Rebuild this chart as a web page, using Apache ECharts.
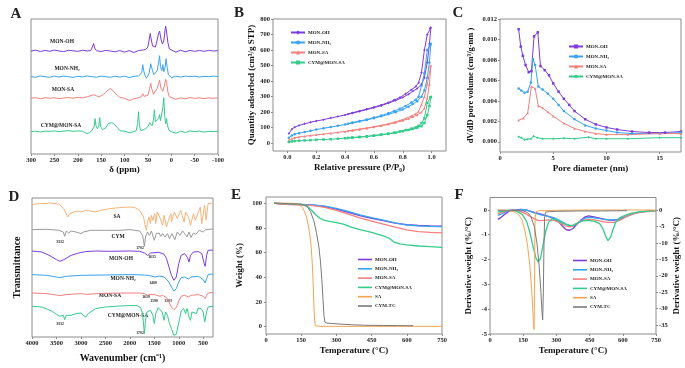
<!DOCTYPE html>
<html>
<head>
<meta charset="utf-8">
<script src="https://cdn.jsdelivr.net/npm/echarts@6.0.0/dist/echarts.min.js"></script>
<style>
html, body { margin: 0; padding: 0; background: #fff; }
#chart { width: 685px; height: 368px; }
</style>
</head>
<body>
<div id="chart"></div>
<script>
// ---- A: 13C NMR, [ppm, height above own baseline] ----
const nmrOH = [[300,0],[290,0.8],[280,-0.5],[270,0.6],[260,-0.3],[250,0.9],[240,0],[230,-0.6],[220,0.7],[210,0.2],[200,-0.4],[190,0.8],[180,0],[172,0.5],[168,2],[166,7.5],[164,3],[160,0.3],[150,-0.5],[140,0.6],[130,0],[120,-0.8],[110,0.5],[100,-1.2],[90,0.4],[80,-1.5],[70,0.5],[60,1],[55,1.5],[50,4],[47,12],[45,17.5],[43,12],[40,5],[37,3],[34,4],[31,9],[28,16],[25,20],[22,12],[19,7],[16,10],[14,18],[12,25],[10,19],[7,8],[4,2],[0,0.5],[-10,-1.2],[-20,0.8],[-30,-0.8],[-40,0.6],[-50,-0.4],[-60,0.5],[-70,-0.3],[-80,0.6],[-90,0],[-100,0.3]];
const nmrNH2 = [[300,0],[290,-0.5],[280,0.7],[270,0],[260,-0.6],[250,0.5],[240,-0.3],[230,0.6],[220,0],[210,-0.7],[200,0.4],[190,-0.2],[180,0.8],[170,0],[160,-0.5],[150,0.6],[140,0],[130,-0.6],[120,0.5],[110,-0.4],[100,0.6],[90,-0.8],[80,0.3],[70,0.8],[66,1.5],[63,4],[61,12],[59,6],[56,1],[53,-1.5],[50,1],[47,4],[44,13],[42,14],[40,6],[37,2],[34,3],[30,6],[27,14],[25,21],[23,10],[20,6],[18,12],[16,5],[13,10],[11,18],[9,10],[6,2],[3,0],[0,-1],[-10,0.5],[-20,-0.4],[-30,0.6],[-40,0],[-50,0.5],[-60,-0.4],[-70,0.4],[-80,0],[-90,0.6],[-100,0.2]];
const nmrSA = [[300,0],[290,0.6],[280,-0.4],[270,0.5],[260,0],[250,0.7],[240,-0.5],[230,0.3],[220,0.8],[210,0],[200,1],[190,0.4],[180,1.5],[170,3],[165,3.5],[160,2.5],[155,1.5],[150,2.5],[145,4],[140,6],[135,8.5],[130,9.5],[125,8],[120,5],[115,3],[110,1],[100,0],[90,-2],[85,-1.5],[80,-0.5],[70,0.5],[64,1.5],[61,4.5],[58,2],[54,0.5],[50,3],[46,10],[44,15],[42,10],[38,4],[34,5],[30,10],[27,15],[25,18],[22,10],[18,7],[15,12],[12,19],[10,16],[7,6],[4,1.5],[0,0],[-10,-1],[-20,0.5],[-30,-0.5],[-40,0.7],[-50,0],[-60,0.5],[-70,-0.3],[-80,0.4],[-90,0],[-100,0.4]];
const nmrCYM = [[300,0],[290,0.6],[280,-0.3],[270,0.5],[260,0.3],[250,0.8],[240,0],[230,0.6],[220,1],[210,0.4],[200,0.8],[190,0.5],[180,-2],[175,-1],[170,1],[165,5],[163,13],[161,6],[158,3],[155,6],[153,14],[151,5],[147,2],[143,0.5],[140,4],[135,8],[131,7],[127,9],[124,11],[121,7],[118,7],[115,4],[110,1],[100,0.5],[90,-1],[80,0],[75,1],[72,8],[70,20],[68,6],[65,1],[60,2],[55,3],[50,5],[46,9],[44,11],[41,6],[38,12],[36,22],[34,10],[30,8],[27,13],[25,17],[23,11],[20,10],[18,24],[16,34],[14,16],[12,8],[10,13],[8,6],[5,1.5],[0,0],[-10,-1.5],[-20,0.5],[-30,-0.8],[-40,0.8],[-50,0],[-60,0.6],[-70,-0.4],[-80,0.3],[-90,0.2],[-100,0.5]];
const nmrBase = [103, 77.3, 55.7, 22.3];

// ---- B: N2 isotherms, [P/P0, cm3/g] adsorption then desorption ----
const isoOH = [[0.01,62],[0.03,90],[0.05,103],[0.08,115],[0.12,125],[0.16,135],[0.2,143],[0.25,152],[0.3,162],[0.35,172],[0.4,182],[0.45,193],[0.5,205],[0.55,217],[0.6,229],[0.65,242],[0.7,258],[0.75,275],[0.8,295],[0.84,315],[0.87,335],[0.9,352],[0.93,380],[0.95,420],[0.97,520],[0.985,640],[0.995,745],[0.99,740],[0.97,700],[0.95,600],[0.93,455],[0.91,390],[0.89,365],[0.86,345],[0.82,318],[0.78,295],[0.74,278],[0.7,262],[0.65,246],[0.6,232],[0.55,220],[0.5,208],[0.45,196],[0.42,188]];
const isoNH2 = [[0.01,35],[0.03,50],[0.05,58],[0.08,65],[0.12,72],[0.16,80],[0.2,88],[0.25,96],[0.3,104],[0.35,112],[0.4,121],[0.45,130],[0.5,140],[0.55,150],[0.6,161],[0.65,173],[0.7,186],[0.75,200],[0.8,217],[0.84,235],[0.87,252],[0.9,270],[0.93,300],[0.95,340],[0.97,420],[0.985,520],[0.995,640],[0.99,630],[0.97,600],[0.95,450],[0.93,370],[0.91,300],[0.89,280],[0.86,262],[0.82,240],[0.78,222],[0.74,207],[0.7,193],[0.65,178],[0.6,165],[0.55,153],[0.5,143],[0.45,133],[0.42,126]];
const isoSA = [[0.01,20],[0.03,30],[0.05,35],[0.08,40],[0.12,45],[0.16,50],[0.2,54],[0.25,59],[0.3,64],[0.35,70],[0.4,76],[0.45,82],[0.5,89],[0.55,96],[0.6,104],[0.65,112],[0.7,122],[0.75,133],[0.8,146],[0.84,158],[0.87,170],[0.9,182],[0.93,200],[0.95,225],[0.97,290],[0.985,380],[0.995,500],[0.99,490],[0.97,380],[0.95,300],[0.93,250],[0.91,205],[0.89,190],[0.86,175],[0.82,160],[0.78,146],[0.74,135],[0.7,125],[0.65,115],[0.6,106],[0.55,98],[0.5,91],[0.45,84],[0.42,79]];
const isoCYM = [[0.01,8],[0.03,12],[0.05,14],[0.08,16],[0.12,18],[0.16,20],[0.2,22],[0.25,24],[0.3,26],[0.35,29],[0.4,32],[0.45,35],[0.5,39],[0.55,43],[0.6,48],[0.65,54],[0.7,60],[0.75,68],[0.8,77],[0.84,85],[0.87,92],[0.9,100],[0.93,110],[0.95,130],[0.97,180],[0.985,240],[0.995,298],[0.99,295],[0.97,260],[0.95,160],[0.93,130],[0.91,112],[0.89,102],[0.86,94],[0.82,85],[0.78,76],[0.74,68],[0.7,62],[0.65,56],[0.6,50],[0.55,45],[0.5,41],[0.45,37],[0.42,34]];

// ---- C: pore size distribution, [nm, cm3/g.nm] ----
const psdOH = [[1.75,0.011],[1.95,0.0093],[2.15,0.0084],[2.4,0.0075],[2.7,0.0068],[2.95,0.0069],[3.2,0.0103],[3.55,0.0107],[3.8,0.0074],[4.2,0.007],[4.6,0.0065],[5,0.0057],[5.5,0.0049],[6,0.0042],[6.5,0.0036],[7,0.003],[8,0.0022],[9,0.0017],[10,0.0014],[11,0.0012],[12.4,0.001],[14,0.0009],[15.5,0.0009],[17,0.001]];
const psdNH2 = [[1.75,0.0052],[2,0.005],[2.3,0.0048],[2.6,0.0049],[2.9,0.0058],[3.1,0.0081],[3.3,0.0075],[3.6,0.0054],[4,0.0051],[4.5,0.0047],[5,0.0042],[5.5,0.0036],[6,0.003],[7,0.0022],[8,0.0016],[9,0.0013],[10,0.0011],[11,0.0009],[12.4,0.0008],[15,0.0008],[17,0.0009]];
const psdSA = [[1.75,0.0021],[2.2,0.0023],[2.6,0.0028],[2.95,0.0054],[3.3,0.0052],[3.6,0.0035],[4,0.0033],[4.5,0.0029],[5,0.0025],[6,0.0018],[7,0.0013],[8,0.001],[9,0.0008],[10,0.0007],[12,0.0007],[15,0.0008],[17,0.0008]];
const psdCYM = [[1.75,0.0005],[2,0.0004],[2.3,0.0002],[2.6,0.00025],[2.9,0.0003],[3.15,0.00055],[3.5,0.0004],[4,0.0003],[5,0.0003],[6,0.00035],[7,0.0003],[8.3,0.00045],[9,0.0003],[10,0.0003],[12,0.0003],[15,0.0004],[17,0.0004]];

// ---- D: FTIR, [cm-1, transmittance (offset units)] ----
const irSA = [[4000,132.7],[3800,133.4],[3600,134],[3450,132.7],[3350,128.4],[3270,120],[3230,123.4],[3150,125],[3050,126],[3000,125],[2900,126.7],[2800,126],[2700,125],[2600,126.7],[2400,128.4],[2200,129.4],[2000,130],[1900,129.4],[1800,126.7],[1720,120],[1680,110],[1660,106.7],[1640,115],[1610,120],[1580,113.4],[1560,121.7],[1530,116.7],[1490,123.4],[1470,113.4],[1440,125],[1390,120],[1330,111.7],[1300,121.7],[1250,110],[1210,116.7],[1160,123.4],[1150,115],[1090,125],[1030,118.4],[960,126.7],[890,115],[860,125],[800,120],[760,111.7],[700,123.4],[660,116.7],[560,130],[530,113.4],[470,131.7],[440,116.7],[400,133.4],[300,134]];
const irCYM = [[4000,107.4],[3700,107.7],[3450,106.7],[3360,105],[3332,100.7],[3300,106],[3250,104],[3200,106],[3100,105],[3000,103.4],[2950,105],[2800,106.7],[2500,106.7],[2200,106.7],[2000,107.4],[1800,106],[1740,101.7],[1702,90.7],[1680,100],[1640,105],[1600,101.7],[1560,106],[1500,96.7],[1460,103.4],[1400,104],[1370,100.7],[1330,103.4],[1280,100],[1230,103.4],[1190,98.4],[1140,103.4],[1080,97.4],[1030,105],[980,101.7],[920,106],[880,103.4],[830,100],[790,105],[750,99.4],[700,104],[650,102.7],[580,106.7],[500,105],[450,107.4],[300,108]];
const irOH = [[4000,86],[3800,85],[3650,81.7],[3500,77.4],[3430,75.7],[3350,77.4],[3200,81.7],[3050,84],[2900,85.4],[2700,86],[2400,85.7],[2000,86],[1800,85.7],[1700,84],[1635,81.4],[1580,84],[1400,84.7],[1300,82.7],[1250,78.4],[1200,70],[1150,61.7],[1100,56.7],[1080,55],[1050,60],[1000,73.4],[950,81.7],[880,83.4],[820,79.4],[790,75],[760,81.7],[700,85],[600,85.4],[530,83.4],[480,73.4],[460,70.7],[430,81.7],[400,86.7],[300,87]];
const irNH2 = [[4000,62.4],[3700,61.7],[3500,60],[3430,59.4],[3300,60.7],[3000,61.7],[2500,62],[2000,62.4],[1700,62],[1600,61.4],[1480,60],[1400,61],[1300,60],[1200,55],[1150,50],[1100,46],[1080,45],[1050,48.4],[1000,55],[950,59.4],[880,60],[800,58],[750,60],[600,60.7],[500,57.4],[460,54],[430,58.4],[400,62.4],[300,63]];
const irMSA = [[4000,44],[3700,43.4],[3500,42],[3430,41.4],[3300,42.4],[3000,43.4],[2900,42.7],[2500,43.7],[2000,44],[1800,44],[1700,43.4],[1639,41.7],[1590,42.4],[1500,42.4],[1450,41.7],[1383,40.7],[1330,41.7],[1250,39.4],[1200,35],[1150,30],[1100,27.4],[1080,26.7],[1050,29.4],[1000,36],[950,40.7],[880,41.7],[800,40],[750,41.7],[600,42.4],[500,40.7],[460,38.4],[430,41.7],[400,44],[300,44.5]];
const irCYMSA = [[4000,30.7],[3800,30],[3600,26],[3500,22.7],[3430,20.7],[3360,21.7],[3332,17.4],[3300,21.7],[3200,21.7],[3100,23.4],[3000,24],[2950,21.7],[2900,20],[2850,23.4],[2700,28.4],[2500,30],[2200,31],[2000,31.4],[1850,31.4],[1780,29.4],[1740,23.4],[1702,3.4],[1680,16.7],[1650,25],[1620,23.4],[1580,26.7],[1530,21.7],[1500,13.4],[1470,23.4],[1420,29.4],[1380,28.4],[1340,25],[1300,16.7],[1270,25],[1230,21.7],[1190,13.4],[1150,8.4],[1100,1.7],[1080,0],[1050,2.7],[1020,10],[980,18.4],[950,26],[900,28.4],[860,23.4],[830,28.4],[790,20],[760,16.7],[730,25],[690,26],[640,23.4],[600,29],[540,28.4],[500,25],[470,15],[450,13.4],[430,25],[400,30],[300,31]];

// ---- E: TGA, [degC, weight %] ----
const tgaOH = [[35,100],[60,99.4],[100,99],[150,98.8],[200,98.4],[250,97.3],[300,95.2],[350,92.6],[400,90],[450,87.6],[500,85.8],[550,83.8],[600,82.6],[650,81.9],[700,81.6],[750,81.4]];
const tgaNH2 = [[35,100],[60,99.5],[100,99.2],[150,99],[200,98.6],[250,97.6],[300,95.8],[350,93.3],[400,90.6],[450,88.2],[500,86.3],[550,84],[600,82.3],[650,81.6],[700,81.2],[750,81]];
const tgaSA = [[35,100],[60,99.3],[100,98.9],[150,98.6],[200,98],[250,96.6],[300,94.2],[350,91.2],[400,88],[450,85.4],[500,83.1],[550,80.6],[600,78.4],[650,77],[700,76.3],[750,75.9]];
const tgaCYM = [[35,100],[80,99.7],[120,99.5],[150,99],[170,98],[185,96],[200,93],[215,90],[230,87.8],[250,86],[275,85],[300,84.3],[330,83],[360,80.8],[400,78.5],[450,76.4],[500,73.6],[525,71.5],[545,68.5],[570,67],[600,66.2],[650,65.3],[700,64.8],[750,64.2]];
const tgaSalA = [[35,100],[80,100],[120,99.8],[140,98.8],[155,96.5],[165,93],[175,87],[185,77],[192,66],[197,52],[201,35],[204,18],[207,5],[210,0.6],[230,0.2],[400,0.2],[600,0.2],[750,0.2]];
const tgaTC = [[35,100],[100,99.6],[150,99.2],[175,97.5],[190,93],[205,85],[215,76],[225,65],[232,53],[238,38],[243,22],[247,9],[251,3.5],[260,2.9],[280,2.5],[320,2],[370,1.4],[420,1.1],[500,0.9],[560,0.8],[627,0.7]];

// ---- F: DTG, [degC, %/degC]; SA and CYM-TC on the right axis ----
const dtgOH = [[35,-0.38],[50,-0.3],[70,-0.15],[90,-0.03],[110,0],[140,0.02],[160,0],[180,-0.05],[200,-0.1],[230,-0.17],[260,-0.25],[290,-0.35],[310,-0.48],[330,-0.68],[345,-0.8],[360,-0.82],[375,-0.75],[390,-0.6],[410,-0.42],[430,-0.28],[445,-0.24],[470,-0.28],[500,-0.34],[530,-0.4],[555,-0.42],[580,-0.38],[610,-0.28],[640,-0.18],[670,-0.1],[700,-0.06],[730,-0.04],[750,-0.03]];
const dtgNH2 = [[35,-0.22],[55,-0.15],[75,-0.06],[95,-0.01],[120,0],[150,0.01],[170,-0.02],[200,-0.12],[230,-0.2],[260,-0.25],[290,-0.32],[320,-0.45],[345,-0.58],[370,-0.66],[390,-0.58],[410,-0.45],[430,-0.33],[450,-0.3],[480,-0.33],[510,-0.37],[540,-0.4],[570,-0.4],[600,-0.32],[630,-0.2],[660,-0.12],[700,-0.07],[750,-0.03]];
const dtgSA = [[35,-0.15],[60,-0.08],[85,-0.02],[110,-0.01],[135,-0.05],[160,-0.15],[185,-0.28],[205,-0.38],[220,-0.43],[240,-0.42],[265,-0.4],[290,-0.42],[315,-0.52],[340,-0.64],[360,-0.68],[380,-0.62],[400,-0.5],[420,-0.42],[445,-0.38],[470,-0.4],[500,-0.45],[530,-0.5],[560,-0.5],[590,-0.4],[620,-0.25],[650,-0.15],[690,-0.08],[750,-0.05]];
const dtgCYM = [[35,-0.08],[60,-0.05],[90,-0.02],[120,-0.05],[145,-0.18],[165,-0.45],[180,-0.9],[195,-1.5],[208,-1.95],[218,-2.1],[228,-1.95],[240,-1.4],[252,-0.85],[265,-0.5],[280,-0.35],[300,-0.4],[325,-0.52],[350,-0.6],[370,-0.63],[390,-0.55],[415,-0.45],[440,-0.42],[470,-0.45],[495,-0.55],[510,-0.75],[522,-1.05],[533,-1.24],[545,-1.1],[555,-0.8],[568,-0.5],[585,-0.32],[610,-0.22],[640,-0.13],[680,-0.07],[750,-0.03]];
const dtgSalA = [[35,0],[80,-0.1],[110,-0.6],[130,-1.5],[145,-3],[160,-7],[170,-11],[180,-17],[188,-24],[193,-30],[197,-35.5],[199,-36.3],[201,-25],[203,-5],[206,-0.6],[220,-0.2],[300,-0.1],[450,0],[600,0],[750,0]];
const dtgTC = [[35,-0.1],[100,-0.1],[150,-0.3],[170,-0.8],[185,-2],[200,-5],[212,-10],[222,-17],[230,-25],[235,-31],[238,-33.4],[241,-25],[244,-10],[247,-2],[252,-0.6],[270,-0.5],[300,-0.4],[400,-0.3],[500,-0.3],[620,-0.2]];

// tick labels
const ticksA = [300, 250, 200, 150, 100, 50, 0, -50, -100];
const ticksBx = [0, 0.2, 0.4, 0.6, 0.8, 1.0];
const ticksBy = [0, 100, 200, 300, 400, 500, 600, 700, 800];
const ticksCx = [0, 5, 10, 15];
const ticksCy = [0, 0.002, 0.004, 0.006, 0.008, 0.010, 0.012];
const ticksD = [4000, 3500, 3000, 2500, 2000, 1500, 1000, 500];
const ticksT = [0, 150, 300, 450, 600, 750];
const ticksEy = [0, 20, 40, 60, 80, 100];
const ticksFl = [0, -1, -2, -3, -4, -5];
const ticksFr = [0, -5, -10, -15, -20, -25, -30, -35];

const cPurple = '#7d3ddc', cBlue = '#3aa3f0', cRed = '#f2807e', cGreen = '#33cc8c', cOrange = '#f5a450', cGray = '#7a7a7a';
const font = 'Liberation Serif';
const boxColor = '#8c8c8c';

let chart = echarts.init(document.getElementById('chart'));

const grid = (l, t, w, h) => ({
	left: l, top: t, width: w, height: h, show: true, borderColor: boxColor, borderWidth: 1,
	containLabel: false, outerBoundsMode: 'none',
});

const axis = (gi, min, max, ticks, o) => {
	o = o || {};
	return {
		type: 'value', gridIndex: gi, min: min, max: max, inverse: !!o.inverse,
		position: o.position, name: o.name || '', nameLocation: 'middle', nameGap: o.gap || 10,
		nameRotate: o.rotate,
		nameTextStyle: { fontFamily: font, fontWeight: 'bold', fontSize: o.nameSize || 9, color: '#111' },
		splitLine: { show: false },
		axisLine: { show: false, onZero: false },
		axisTick: { show: !!ticks, length: 2, lineStyle: { color: boxColor }, customValues: ticks || [] },
		axisLabel: {
			show: !!ticks, customValues: ticks || [], margin: o.margin || 3,
			fontFamily: font, fontWeight: 'bold', fontSize: 6.5, color: '#222',
			formatter: o.fmt || (v => String(v)),
		},
	};
};

const line = (name, gi, yi, data, color, o) => Object.assign({
	name: name, type: 'line', xAxisIndex: gi, yAxisIndex: yi, data: data,
	symbol: 'none', showSymbol: false, silent: true,
	lineStyle: { color: color, width: 1 }, itemStyle: { color: color },
}, o);

const marked = (sym) => ({ symbol: sym, symbolSize: 2.5, showSymbol: true });
const shift = (arr, k) => arr.map(p => [p[0], p[1] + k]);
const strip = name => name.split('|')[1];

const legend = (l, t, gap, names, flat) => ({
	orient: 'vertical', left: l, top: t, itemGap: gap, itemWidth: 14, itemHeight: flat ? 1.6 : 5,
	data: flat ? names.map(n => ({ name: n, icon: 'rect' })) : names,
	formatter: strip, selectedMode: false,
	textStyle: { fontFamily: font, fontWeight: 'bold', fontSize: 5, color: '#222', padding: [0, 0, 0, -2] },
});

const txt = (x, y, s, size, align) => ({
	type: 'text', x: x, y: y, silent: true,
	style: { text: s, font: 'bold ' + size + 'px "' + font + '"', fill: '#222', align: align || 'center', verticalAlign: 'middle' },
});

let option = {
	animation: false,
	backgroundColor: '#fff',
	grid: [
		grid(31, 19, 187, 135),
		grid(273, 19, 173, 132),
		grid(500, 19, 181, 133),
		grid(32, 198, 181, 139),
		grid(266, 197, 176, 137),
		grid(490, 197.5, 166, 136.5),
	],
	xAxis: [
		axis(0, -100, 300, ticksA, { inverse: true, name: 'δ (ppm)', gap: 8 }),
		axis(1, -0.1, 1.1, ticksBx, { name: 'Relative pressure (P/P₀)', gap: 12, fmt: v => v.toFixed(1) }),
		axis(2, 0, 17, ticksCx, { name: 'Pore diameter (nm)', gap: 12 }),
		axis(3, 300, 4000, ticksD, { inverse: true, name: 'Wavenumber (cm⁻¹)', gap: 16, nameSize: 10 }),
		axis(4, 0, 750, ticksT, { name: 'Temperature (°C)', gap: 12 }),
		axis(5, 0, 750, ticksT, { name: 'Temperature (°C)', gap: 12 }),
	],
	yAxis: [
		axis(0, 0, 135, null),
		axis(1, -50, 800, ticksBy, { name: 'Quantity adsorbed (cm³/g STP)', gap: 17, rotate: 90 }),
		axis(2, -0.001, 0.012, ticksCy, { name: 'dV/dD pore volume (cm³/g·nm )', gap: 25, rotate: 90, nameSize: 8.5, fmt: v => v.toFixed(3) }),
		axis(3, 0, 139, null, { name: 'Transmittance', gap: 10, rotate: 90, nameSize: 10 }),
		axis(4, -6, 105, ticksEy, { name: 'Weight (%)', gap: 22, rotate: 90, margin: 4 }),
		axis(5, -5, 0.5, ticksFl, { name: 'Derivative weight (%/°C)', gap: 17, rotate: 90 }),
		axis(5, -37.7, 3.8, ticksFr, { position: 'right', name: 'Derivative weight (%/°C)', gap: 16, rotate: 90 }),
	],
	legend: [
		legend(285, 25, 5, ['B|MON-OH', 'B|MON-NH₂', 'B|MON-SA', 'B|CYM@MON-SA']),
		legend(563, 39, 5, ['C|MON-OH', 'C|MON-NH₂', 'C|MON-SA', 'C|CYM@MON-SA']),
		legend(353, 252, 4.3, ['E|MON-OH', 'E|MON-NH₂', 'E|MON-SA', 'E|CYM@MON-SA', 'E|SA', 'E|CYM-TC'], true),
		legend(568, 253, 4.3, ['F|MON-OH', 'F|MON-NH₂', 'F|MON-SA', 'F|CYM@MON-SA', 'F|SA', 'F|CYM-TC'], true),
	],
	series: [
		line('A|MON-OH', 0, 0, shift(nmrOH, nmrBase[0]), cPurple),
		line('A|MON-NH₂', 0, 0, shift(nmrNH2, nmrBase[1]), cBlue),
		line('A|MON-SA', 0, 0, shift(nmrSA, nmrBase[2]), cRed),
		line('A|CYM@MON-SA', 0, 0, shift(nmrCYM, nmrBase[3]), cGreen),

		line('B|MON-OH', 1, 1, isoOH, cPurple, marked('diamond')),
		line('B|MON-NH₂', 1, 1, isoNH2, cBlue, marked('circle')),
		line('B|MON-SA', 1, 1, isoSA, cRed, marked('triangle')),
		line('B|CYM@MON-SA', 1, 1, isoCYM, cGreen, marked('rect')),

		line('C|MON-OH', 2, 2, psdOH, cPurple, marked('rect')),
		line('C|MON-NH₂', 2, 2, psdNH2, cBlue, marked('circle')),
		line('C|MON-SA', 2, 2, psdSA, cRed, marked('triangle')),
		line('C|CYM@MON-SA', 2, 2, psdCYM, cGreen, marked('diamond')),

		line('D|SA', 3, 3, irSA, '#f6b47a'),
		line('D|CYM', 3, 3, irCYM, '#9a9a9a'),
		line('D|MON-OH', 3, 3, irOH, cPurple),
		line('D|MON-NH₂', 3, 3, irNH2, cBlue),
		line('D|MON-SA', 3, 3, irMSA, cRed),
		line('D|CYM@MON-SA', 3, 3, irCYMSA, cGreen),

		line('E|MON-OH', 4, 4, tgaOH, cPurple, { lineStyle: { color: cPurple, width: 1.3 } }),
		line('E|MON-NH₂', 4, 4, tgaNH2, cBlue, { lineStyle: { color: cBlue, width: 1.3 } }),
		line('E|MON-SA', 4, 4, tgaSA, cRed, { lineStyle: { color: cRed, width: 1.3 } }),
		line('E|CYM@MON-SA', 4, 4, tgaCYM, cGreen, { lineStyle: { color: cGreen, width: 1.3 } }),
		line('E|SA', 4, 4, tgaSalA, cOrange),
		line('E|CYM-TC', 4, 4, tgaTC, cGray),

		line('F|MON-OH', 5, 5, dtgOH, cPurple, { lineStyle: { color: cPurple, width: 1.3 } }),
		line('F|MON-NH₂', 5, 5, dtgNH2, cBlue, { lineStyle: { color: cBlue, width: 1.3 } }),
		line('F|MON-SA', 5, 5, dtgSA, cRed, { lineStyle: { color: cRed, width: 1.3 } }),
		line('F|CYM@MON-SA', 5, 5, dtgCYM, cGreen, { lineStyle: { color: cGreen, width: 1.3 } }),
		line('F|SA', 5, 6, dtgSalA, cOrange),
		line('F|CYM-TC', 5, 6, dtgTC, cGray),
	],
	graphic: [
		txt(16, 14, 'A', 15), txt(239, 13, 'B', 15), txt(458, 13, 'C', 15),
		txt(14, 197, 'D', 15), txt(236, 195, 'E', 15), txt(459, 195, 'F', 15),
		// panel A labels
		txt(62, 42, 'MON-OH', 5.5), txt(67, 69, 'MON-NH₂', 5.5), txt(63, 90, 'MON-SA', 5.5), txt(61, 126, 'CYM@MON-SA', 5.5),
		// panel D labels
		txt(117, 217, 'SA', 5.5), txt(118, 237, 'CYM', 5.5), txt(121, 259, 'MON-OH', 5.5),
		txt(123, 279, 'MON-NH₂', 5.5), txt(110, 296, 'MON-SA', 5.5), txt(128, 316, 'CYM@MON-SA', 5.5),
		// panel D band annotations
		txt(60, 242, '3332', 3.8), txt(140, 248, '1702', 3.8), txt(152, 257, '1635', 3.8),
		txt(153, 283, '1480', 3.8), txt(146, 297, '1639', 3.8), txt(154, 301, '1590', 3.8),
		txt(168, 301, '1383', 3.8), txt(60, 324, '3332', 3.8), txt(140, 333, '1702', 3.8),
	],
};

chart.setOption(option);
</script>
</body>
</html>
